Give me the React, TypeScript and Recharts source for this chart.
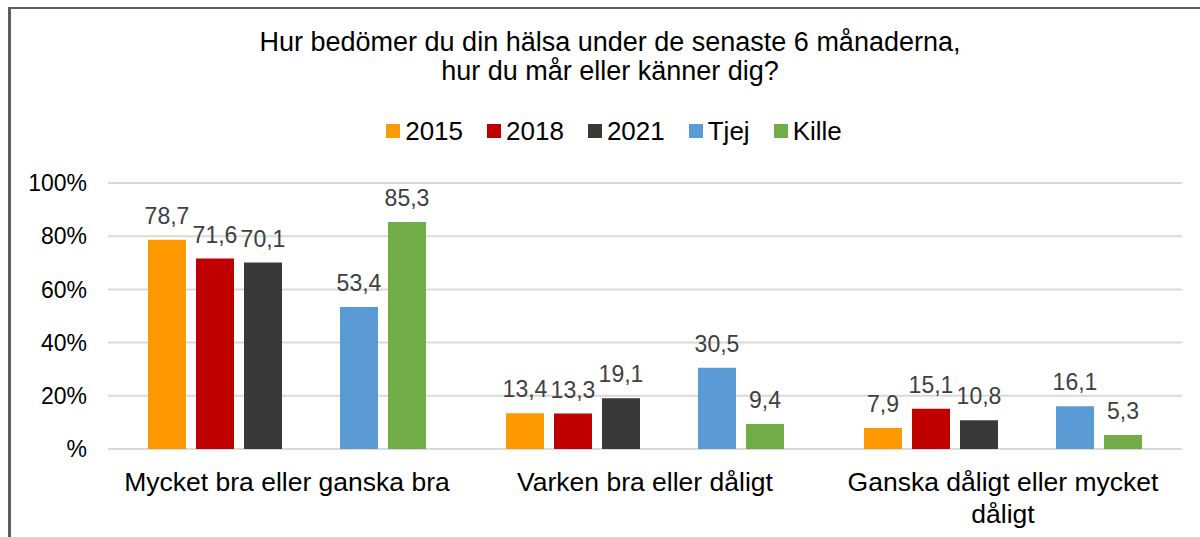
import { BarChart, Bar, XAxis, YAxis, CartesianGrid, Legend, LabelList } from "recharts";

const FONT = '"Liberation Sans", Arial, sans-serif';

const categories = [
  "Mycket bra eller ganska bra",
  "Varken bra eller dåligt",
  "Ganska dåligt eller mycket dåligt",
];

const values2015 = [78.7, 13.4, 7.9];
const values2018 = [71.6, 13.3, 15.1];
const values2021 = [70.1, 19.1, 10.8];
const valuesTjej = [53.4, 30.5, 16.1];
const valuesKille = [85.3, 9.4, 5.3];

const yTicks = [0, 20, 40, 60, 80, 100];

const series = [
  { key: "y2015", name: "2015", color: "#FF9900" },
  { key: "y2018", name: "2018", color: "#C00000" },
  { key: "y2021", name: "2021", color: "#3B3838" },
  { key: "blank", name: "", color: "transparent" },
  { key: "tjej", name: "Tjej", color: "#5B9BD5" },
  { key: "kille", name: "Kille", color: "#70AD47" },
];

const data = categories.map((name, i) => ({
  name,
  y2015: values2015[i],
  y2018: values2018[i],
  y2021: values2021[i],
  tjej: valuesTjej[i],
  kille: valuesKille[i],
}));

const fmt = (v: any) => (v == null ? "" : Number(v).toFixed(1).replace(".", ","));

// greedy word wrap, measured with a canvas
let ctx: CanvasRenderingContext2D | null = null;
function wrap(label: string, maxWidth: number, font: string) {
  if (!ctx) ctx = document.createElement("canvas").getContext("2d");
  if (!ctx) return [label];
  ctx.font = font;
  const lines: string[] = [];
  let line = "";
  for (const word of label.split(" ")) {
    const next = line ? `${line} ${word}` : word;
    if (line && ctx.measureText(next).width > maxWidth) {
      lines.push(line);
      line = word;
    } else {
      line = next;
    }
  }
  if (line) lines.push(line);
  return lines;
}

function CategoryTick(props: any) {
  const { x, y, payload } = props;
  const lines = wrap(payload.value, 345, `26.5px ${FONT}`);
  return (
    <text x={x} y={y} textAnchor="middle" fill="#000" fontSize={26.5} fontFamily={FONT}>
      {lines.map((l, i) => (
        <tspan key={i} x={x} dy={i === 0 ? "0.71em" : 32}>
          {l}
        </tspan>
      ))}
    </text>
  );
}

function renderLegend(props: any) {
  const names = series.map((s) => s.name);
  const items = (props.payload || [])
    .filter((p: any) => p.value)
    .sort((a: any, b: any) => names.indexOf(a.value) - names.indexOf(b.value));
  return (
    <div
      style={{
        display: "flex",
        justifyContent: "center",
        alignItems: "center",
        gap: 24,
        fontSize: 26,
        fontFamily: FONT,
        color: "#000",
        height: 30,
      }}
    >
      {items.map((entry: any) => (
        <div key={entry.value} style={{ display: "flex", alignItems: "center" }}>
          <span style={{ width: 14, height: 14, background: entry.color, marginRight: 5, display: "inline-block" }} />
          <span>{entry.value}</span>
        </div>
      ))}
    </div>
  );
}

export default function App() {
  return (
    <div style={{ position: "absolute", left: 0, top: 0, width: 1200, height: 537, background: "#fff", fontFamily: FONT }}>
      <div
        style={{
          position: "absolute",
          left: 8,
          top: 7,
          right: 0,
          bottom: 0,
          borderTop: "2px solid #5f5f5f",
          borderLeft: "3px solid #5f5f5f",
        }}
      />
      <div
        style={{
          position: "absolute",
          left: 0,
          top: 28,
          width: 1220,
          textAlign: "center",
          fontSize: 27,
          lineHeight: "29px",
          color: "#000",
        }}
      >
        Hur bedömer du din hälsa under de senaste 6 månaderna,
        <br />
        hur du mår eller känner dig?
      </div>
      <BarChart
        width={1200}
        height={537}
        data={data}
        margin={{ top: 183, right: 18, bottom: 28, left: 0 }}
        barSize={38}
        barGap={10}
      >
        <CartesianGrid horizontal vertical={false} stroke="#d9d9d9" strokeWidth={2} />
        <XAxis
          dataKey="name"
          axisLine={false}
          tickLine={false}
          tickSize={0}
          tickMargin={23}
          height={60}
          interval={0}
          tick={<CategoryTick />}
        />
        <YAxis
          domain={[0, 100]}
          ticks={yTicks}
          width={108}
          axisLine={false}
          tickLine={false}
          tickSize={0}
          tickMargin={21}
          tick={{ fontSize: 23, fill: "#000", fontFamily: FONT }}
          tickFormatter={(v: number) => (v === 0 ? "%" : `${v}%`)}
        />
        <Legend
          layout="horizontal"
          verticalAlign="middle"
          align="center"
          content={renderLegend}
          wrapperStyle={{ top: 116, left: 14, width: 1200, height: 30 }}
        />
        {series.map((s) => (
          <Bar
            key={s.key}
            dataKey={s.key}
            name={s.name}
            fill={s.color}
            isAnimationActive={false}
            legendType={s.key === "blank" ? "none" : "square"}
          >
            {s.key !== "blank" && (
              <LabelList
                dataKey={s.key}
                position="top"
                offset={16}
                formatter={fmt}
                fill="#404040"
                fontSize={23}
                fontFamily={FONT}
              />
            )}
          </Bar>
        ))}
      </BarChart>
    </div>
  );
}
